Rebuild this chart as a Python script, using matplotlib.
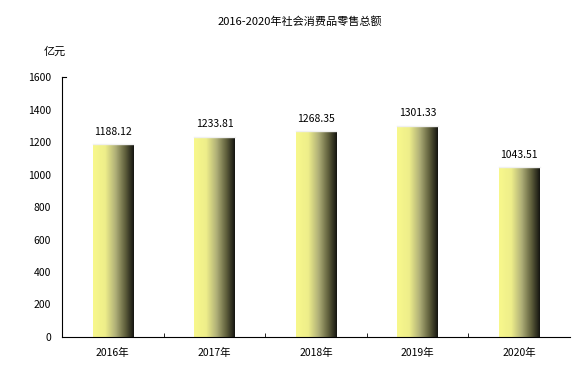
import matplotlib.pyplot as plt
import numpy as np
from matplotlib.colors import LinearSegmentedColormap

plt.rcParams['font.family'] = ['Noto Sans CJK SC', 'DejaVu Sans']

# data
years = ["2016年", "2017年", "2018年", "2019年", "2020年"]
sales = [1188.12, 1233.81, 1268.35, 1301.33, 1043.51]
title = "2016-2020年社会消费品零售总额"

fig = plt.figure(figsize=(5.77, 3.80), dpi=100)
ax = fig.add_axes([0.1075, 0.1132, 0.8805, 0.684])

x = np.arange(len(years))
bars = ax.bar(x, sales, width=0.4, color='none', edgecolor='none', zorder=2)

# gradient fill, light yellow on the left to near black on the right
cmap = LinearSegmentedColormap.from_list(
    "bar", [(0, "#f8f88c"), (0.3, "#eeee8a"), (0.55, "#b0b078"),
            (0.8, "#5c5c3a"), (1, "#141410")])
grad = np.linspace(0, 1, 256).reshape(1, -1)
for b in bars:
    x0, y0 = b.get_x(), b.get_y()
    w, h = b.get_width(), b.get_height()
    img = ax.imshow(grad, cmap=cmap, aspect='auto', extent=(x0, x0 + w, y0, y0 + h), zorder=2)
    img.set_clip_path(b)
    ax.plot([x0, x0 + w], [y0 + h, y0 + h], color='#f0f0f0', lw=1, zorder=3)

for xi, v in zip(x, sales):
    ax.text(xi, v + 45, f"{v:.2f}", ha='center', va='bottom', fontsize=7.5)

ax.set_xlim(-0.5, 4.5)
ax.set_ylim(0, 1600)
ax.set_yticks(range(0, 1601, 200))
ax.set_xticks(x)
ax.set_xticklabels(years)
ax.set_xticks(np.arange(0.5, 4.5, 1), minor=True)
ax.tick_params(axis='x', which='major', length=0, labelsize=7.5, pad=8)
ax.tick_params(axis='x', which='minor', direction='in', length=3)
ax.tick_params(axis='y', length=0, labelsize=7.5, pad=8)

ax.spines['top'].set_visible(False)
ax.spines['right'].set_visible(False)
ax.plot([0, 0.008], [1, 1], transform=ax.transAxes, color='k', lw=0.8, clip_on=False)

fig.text(0.095, 0.855, "亿元", fontsize=8, ha='center')
fig.text(0.52, 0.935, title, fontsize=8, ha='center')

fig.savefig("out.png", dpi=100)
